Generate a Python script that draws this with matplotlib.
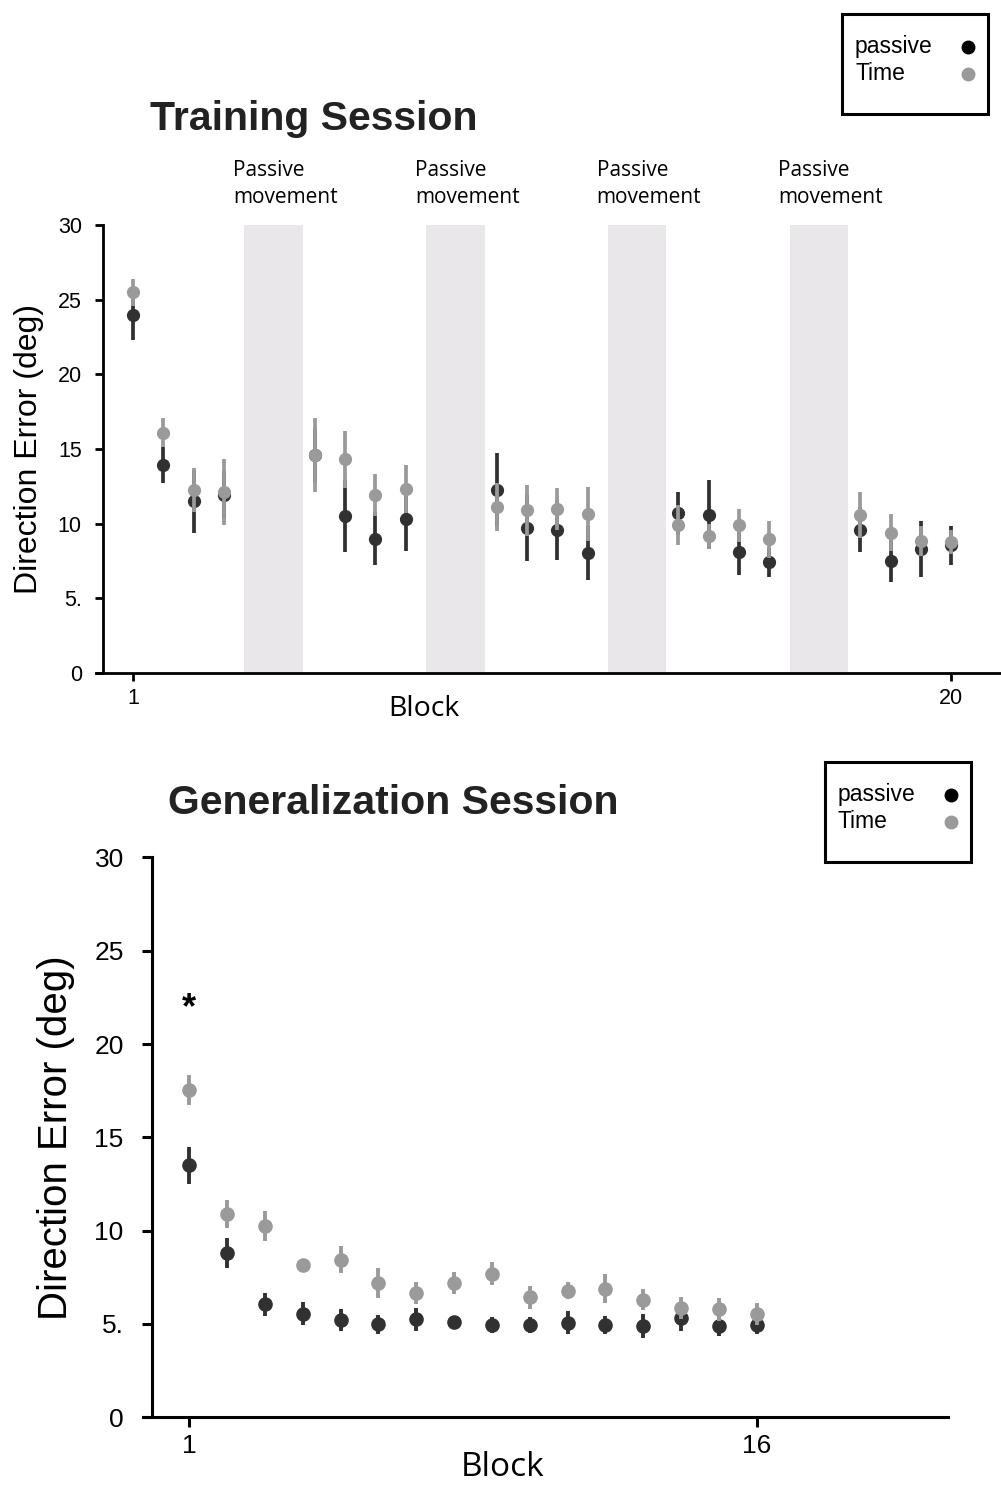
import matplotlib
matplotlib.use('Agg')
import matplotlib.pyplot as plt
import numpy as np
from matplotlib.patches import Rectangle
from matplotlib.lines import Line2D

plt.rcParams['font.family'] = ['Liberation Sans', 'DejaVu Sans']

# training session, 20 blocks
train_blocks = np.arange(1, 21)
train_passive = [24.0, 13.9, 11.5, 11.9, 14.6, 10.5, 9.0, 10.3, 12.25, 9.7,
                 9.6, 8.05, 10.7, 10.6, 8.1, 7.4, 9.6, 7.5, 8.3, 8.55]
train_passive_err = [1.7, 1.2, 2.1, 1.6, 1.8, 2.4, 1.8, 2.1, 2.45, 2.2,
                     2.0, 1.8, 1.45, 2.3, 1.55, 1.0, 1.5, 1.4, 1.85, 1.3]
train_time = [25.5, 16.1, 12.25, 12.1, 14.6, 14.3, 11.9, 12.3, 11.1, 10.9,
              11.0, 10.65, 9.9, 9.15, 9.9, 8.95, 10.6, 9.4, 8.85, 8.75]
train_time_err = [0.9, 1.0, 1.5, 2.2, 2.5, 1.9, 1.4, 1.6, 1.6, 1.7,
                  1.4, 1.8, 1.35, 0.85, 1.1, 1.25, 1.55, 1.25, 1.0, 0.8]
passive_after = [4, 8, 12, 16]   # passive movement after these blocks

# generalization session, 16 blocks
gen_blocks = np.arange(1, 17)
gen_passive = [13.5, 8.8, 6.05, 5.55, 5.2, 4.98, 5.25, 5.1, 4.95, 4.95,
               5.07, 4.95, 4.9, 5.3, 4.9, 4.95]
gen_passive_err = [1.0, 0.8, 0.63, 0.62, 0.6, 0.5, 0.6, 0.3, 0.45, 0.45,
                   0.6, 0.5, 0.66, 0.7, 0.55, 0.5]
gen_time = [17.55, 10.9, 10.25, 8.15, 8.45, 7.2, 6.65, 7.18, 7.7, 6.43,
            6.78, 6.9, 6.3, 5.85, 5.78, 5.53]
gen_time_err = [0.8, 0.77, 0.8, 0.3, 0.73, 0.8, 0.6, 0.6, 0.63, 0.63,
                0.45, 0.8, 0.55, 0.6, 0.6, 0.6]

yticks = [0, 5, 10, 15, 20, 25, 30]
ytick_labels = ['0', '5.', '10', '15', '20', '25', '30']

DARK = '#313131'
GRAY = '#9a9a9a'
SHADE = '#e9e7e9'
LABEL_FONT = ['Open Sans', 'DejaVu Sans']

fig = plt.figure(figsize=(10.01, 14.85), dpi=100)


def style_axes(ax, lw, ticksize, ticklen, pad):
    ax.spines['top'].set_visible(False)
    ax.spines['right'].set_visible(False)
    ax.spines['left'].set_position(('data', 0))
    ax.spines['left'].set_linewidth(lw)
    ax.spines['bottom'].set_linewidth(lw)
    ax.set_ylim(0, 30)
    ax.set_yticks(yticks)
    ax.set_yticklabels(ytick_labels)
    ax.tick_params(direction='out', length=ticklen, width=lw, labelsize=ticksize)
    ax.tick_params(axis='y', pad=pad)
    ax.tick_params(axis='x', pad=5)


def legend_box(x0, y0, w, h, fs):
    # box in figure pixels (top-left origin)
    W, H = 1001.0, 1485.0
    fig.patches.append(Rectangle((x0 / W, 1 - (y0 + h) / H), w / W, h / H, transform=fig.transFigure,
                                 fill=False, lw=2.2, ec='black'))
    fig.text((x0 + 13) / W, 1 - (y0 + 32) / H, 'passive', fontsize=fs, va='center')
    fig.text((x0 + 13) / W, 1 - (y0 + 59) / H, 'Time', fontsize=fs, va='center')
    fig.add_artist(Line2D([(x0 + w - 20) / W], [1 - (y0 + 33) / H], transform=fig.transFigure,
                          marker='o', ms=9, color='black', lw=0))
    fig.add_artist(Line2D([(x0 + w - 20) / W], [1 - (y0 + 60) / H], transform=fig.transFigure,
                          marker='o', ms=9, color=GRAY, lw=0))


# ---- Training session ----
ax1 = fig.add_axes([0.0959, 0.5468, 0.9031, 0.3017])
pos = train_blocks + 2 * ((train_blocks - 1) // 4)
for b in passive_after:
    p = b + 2 * ((b - 1) // 4)
    ax1.axvspan(p + 0.67, p + 2.6, color=SHADE, lw=0, zorder=0)
    ax1.text(p + 0.3, 32.75, 'Passive\nmovement', fontsize=15, family=LABEL_FONT,
             ha='left', va='center', linespacing=1.42, clip_on=False)
ax1.errorbar(pos, train_passive, yerr=train_passive_err, fmt='o', color=DARK, ms=8.5,
             elinewidth=2.7, capsize=0, zorder=3)
ax1.errorbar(pos, train_time, yerr=train_time_err, fmt='o', color=GRAY, ms=8.5,
             elinewidth=2.7, capsize=0, zorder=4)
ax1.set_xlim(-0.22, 29.61)
style_axes(ax1, 2.0, 15.5, 6, 9)
ax1.set_xticks([pos[0], pos[-1]])
ax1.set_xticklabels([str(train_blocks[0]), str(train_blocks[-1])])
ax1.set_xlabel('Block', fontsize=20.5, family=LABEL_FONT)
ax1.xaxis.set_label_coords(0.363, -0.048)
ax1.set_ylabel('Direction Error (deg)', fontsize=23)
ax1.yaxis.set_label_coords(-0.058, 0.5)
fig.text(150 / 1001, 1 - 119 / 1485, 'Training Session', fontsize=29.5, fontweight='bold',
         color='#222222', va='center')
legend_box(842, 14, 146, 100, 16.5)

# ---- Generalization session ----
ax2 = fig.add_axes([0.1429, 0.0456, 0.8042, 0.377])
ax2.errorbar(gen_blocks, gen_passive, yerr=gen_passive_err, fmt='o', color=DARK, ms=9.5,
             elinewidth=2.8, capsize=0, zorder=3)
ax2.errorbar(gen_blocks, gen_time, yerr=gen_time_err, fmt='o', color=GRAY, ms=9.5,
             elinewidth=2.8, capsize=0, zorder=4)
ax2.text(gen_blocks[0], 21.9, '*', fontsize=26, fontweight='bold', ha='center', va='center')
ax2.set_xlim(-0.224, 21.06)
style_axes(ax2, 2.2, 19, 7, 13)
ax2.set_xticks([gen_blocks[0], gen_blocks[-1]])
ax2.set_xticklabels([str(gen_blocks[0]), str(gen_blocks[-1])])
ax2.set_xlabel('Block', fontsize=24, family=LABEL_FONT)
ax2.xaxis.set_label_coords(0.447, -0.061)
ax2.set_ylabel('Direction Error (deg)', fontsize=29)
ax2.yaxis.set_label_coords(-0.085, 0.5)
fig.text(168 / 1001, 1 - 803 / 1485, 'Generalization Session', fontsize=29.5, fontweight='bold',
         color='#222222', va='center')
legend_box(825, 762, 146, 100, 16.5)

fig.savefig('out.png', dpi=100)
